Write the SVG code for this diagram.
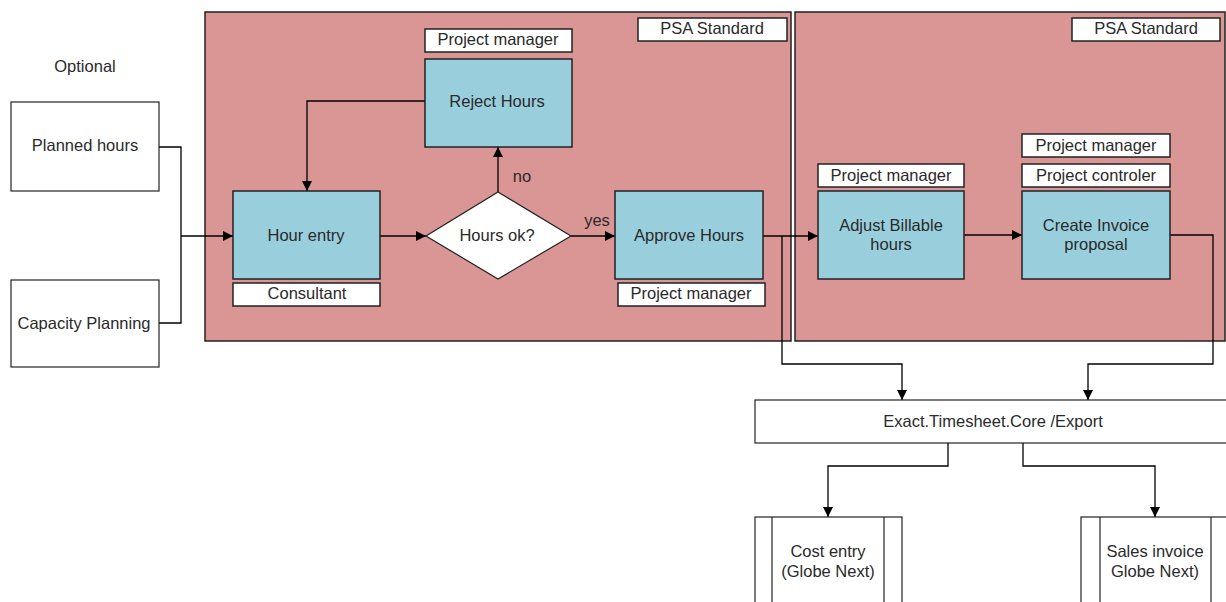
<svg xmlns="http://www.w3.org/2000/svg" width="1226" height="602" viewBox="0 0 1226 602">
  <defs>
    <marker id="arrow" viewBox="0 0 10 10" refX="10" refY="5" markerWidth="11" markerHeight="10" markerUnits="userSpaceOnUse" orient="auto">
      <path d="M0,0 L10,5 L0,10 z" fill="#000"/>
    </marker>
    <style>
      text { font-family: "Liberation Sans", Arial, sans-serif; font-size: 16.5px; fill: #2a2a2a; text-anchor: middle; dominant-baseline: central; }
      .panel { fill: #d99694; stroke: #222; stroke-width: 1.5; }
      .task { fill: #99cfdd; stroke: #222; stroke-width: 1.5; }
      .tag { fill: #fff; stroke: #222; stroke-width: 1.5; }
      .box { fill: #fff; stroke: #222; stroke-width: 1.2; }
      .wire { fill: none; stroke: #000; stroke-width: 1.3; }
      .head { fill: none; stroke: #000; stroke-width: 1.3; marker-end: url(#arrow); }
    </style>
  </defs>
  <rect width="1226" height="602" fill="#fff"/>

  <!-- swimlane panels -->
  <g id="panel-left">
    <rect class="panel" x="205" y="12" width="586" height="329"/>
    <rect class="tag" x="638" y="18" width="149" height="23"/>
    <text x="712" y="28">PSA Standard</text>
  </g>
  <g id="panel-right">
    <rect class="panel" x="795" y="12" width="430" height="329"/>
    <rect class="tag" x="1072" y="18" width="148" height="23"/>
    <text x="1146" y="28">PSA Standard</text>
  </g>

  <text x="85" y="66">Optional</text>

  <!-- connectors -->
  <g id="connectors">
    <path class="wire" d="M159,147 H181 V323 H159"/>
    <path class="head" d="M181,236 H233"/>
    <path class="head" d="M380,236 H426"/>
    <path class="head" d="M498,192 V147"/>
    <path class="head" d="M425,101 H307 V191"/>
    <path class="head" d="M571,236 H615"/>
    <path class="head" d="M763,236 H818"/>
    <path class="head" d="M782,236 V364 H902 V400"/>
    <path class="head" d="M964,235 H1022"/>
    <path class="head" d="M1170,235 H1213 V364 H1088 V400"/>
    <path class="head" d="M948,443 V466 H828 V517"/>
    <path class="head" d="M1023,443 V466 H1155 V517"/>
    <text x="522" y="176">no</text>
    <text x="597" y="220">yes</text>
  </g>

  <!-- source boxes -->
  <g id="planned-hours">
    <rect class="box" x="11" y="102" width="148" height="89"/>
    <text x="85" y="145">Planned hours</text>
  </g>
  <g id="capacity-planning">
    <rect class="box" x="11" y="280" width="148" height="87"/>
    <text x="84" y="323">Capacity Planning</text>
  </g>

  <!-- process steps -->
  <g id="hour-entry">
    <rect class="task" x="233" y="191" width="147" height="88"/>
    <text x="306" y="235">Hour entry</text>
    <rect class="tag" x="233" y="283" width="147" height="23"/>
    <text x="307" y="293">Consultant</text>
  </g>
  <g id="reject-hours">
    <rect class="tag" x="425" y="29" width="147" height="23"/>
    <text x="498" y="39">Project manager</text>
    <rect class="task" x="425" y="59" width="147" height="88"/>
    <text x="497" y="101">Reject Hours</text>
  </g>
  <g id="hours-ok">
    <polygon points="498,192 571,236 498,279 426,236" fill="#fff" stroke="#222" stroke-width="1.2"/>
    <text x="497" y="235">Hours ok?</text>
  </g>
  <g id="approve-hours">
    <rect class="task" x="615" y="191" width="148" height="88"/>
    <text x="689" y="235">Approve Hours</text>
    <rect class="tag" x="618" y="283" width="147" height="23"/>
    <text x="691" y="293">Project manager</text>
  </g>
  <g id="adjust-billable">
    <rect class="tag" x="818" y="164" width="146" height="23"/>
    <text x="891" y="175">Project manager</text>
    <rect class="task" x="818" y="191" width="146" height="88"/>
    <text x="891" y="225">Adjust Billable</text>
    <text x="891" y="244">hours</text>
  </g>
  <g id="create-invoice">
    <rect class="tag" x="1022" y="134" width="148" height="23"/>
    <text x="1096" y="145">Project manager</text>
    <rect class="tag" x="1022" y="164" width="148" height="23"/>
    <text x="1096" y="175">Project controler</text>
    <rect class="task" x="1022" y="191" width="148" height="88"/>
    <text x="1096" y="225">Create Invoice</text>
    <text x="1096" y="244">proposal</text>
  </g>

  <!-- export and targets -->
  <g id="export">
    <rect class="box" x="755" y="400" width="480" height="43"/>
    <text x="993" y="421">Exact.Timesheet.Core /Export</text>
  </g>
  <g id="cost-entry">
    <rect class="box" x="755" y="517" width="147" height="100"/>
    <line class="box" x1="772" y1="517" x2="772" y2="617"/>
    <line class="box" x1="884" y1="517" x2="884" y2="617"/>
    <text x="828" y="551">Cost entry</text>
    <text x="828" y="571">(Globe Next)</text>
  </g>
  <g id="sales-invoice">
    <rect class="box" x="1081" y="517" width="160" height="100"/>
    <line class="box" x1="1100" y1="517" x2="1100" y2="617"/>
    <line class="box" x1="1211" y1="517" x2="1211" y2="617"/>
    <text x="1155" y="551">Sales invoice</text>
    <text x="1155" y="571">Globe Next)</text>
  </g>
</svg>
